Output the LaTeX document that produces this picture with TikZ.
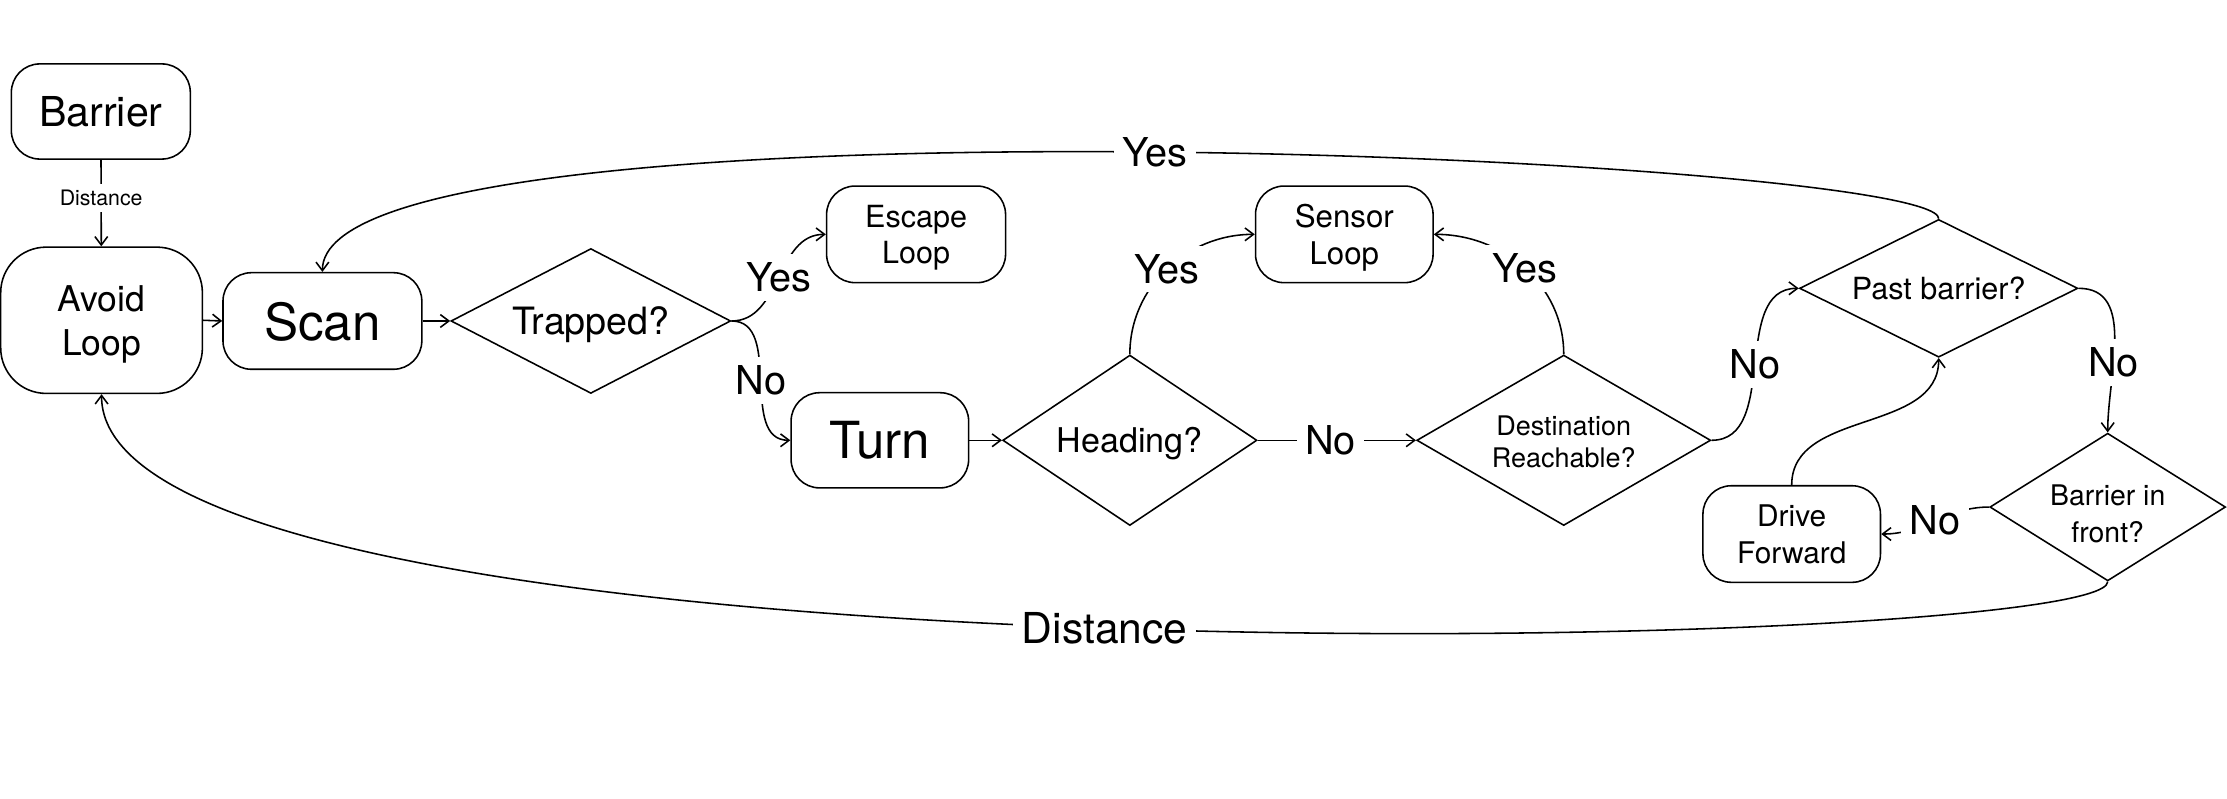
\documentclass[tikz,border=0pt]{standalone}
\usepackage{fontspec}
\setmainfont{TeX Gyre Heros}
\usetikzlibrary{shapes.geometric,arrows.meta}
\begin{document}
\begin{tikzpicture}[x=1pt,y=1pt,
  every path/.style={line width=1.1pt},
  arr/.style={-{Straight Barb[length=6pt,width=9pt]}},
  box/.style={draw,rounded corners=20pt,inner sep=0pt,align=center},
  dia/.style={draw,diamond,inner sep=0pt,align=center},
  lbl/.style={fill=white,inner sep=6pt,font=\fontsize{28}{34}\selectfont},
  slbl/.style={fill=white,inner sep=4pt,font=\fontsize{15}{18}\selectfont}]
\useasboundingbox (0,0) rectangle (1568,-562);

\node[box,minimum width=126pt,minimum height=67pt,font=\fontsize{29}{35}\selectfont,text depth=0pt] (barrier) at (71,-78.5) {Barrier};
\node[box,rounded corners=32pt,minimum width=142pt,minimum height=103pt,font=\fontsize{25}{31}\selectfont] (avoid) at (71.5,-225.5) {Avoid\\\smash{Loop}};
\node[box,minimum width=140pt,minimum height=68pt,font=\fontsize{36}{42}\selectfont,text depth=0pt] (scan) at (227,-226) {Scan};
\node[dia,minimum width=197pt,minimum height=102pt,aspect=1.93,font=\fontsize{26.5}{32}\selectfont,text depth=0pt] (trapped) at (416,-226) {Trapped?};
\node[box,minimum width=126pt,minimum height=68pt,font=\fontsize{21.5}{25}\selectfont] (escape) at (645,-165) {Escape\\\smash{Loop}};
\node[box,minimum width=125pt,minimum height=67pt,font=\fontsize{36}{42}\selectfont,text depth=0pt] (turn) at (619.5,-310) {Turn};
\node[dia,minimum width=179pt,minimum height=120pt,aspect=1.49,font=\fontsize{24}{29}\selectfont,text depth=0pt] (heading) at (795.5,-310) {Heading?};
\node[dia,minimum width=207pt,minimum height=120pt,aspect=1.72] (dest) at (1101,-310) {};
\node[font=\fontsize{19}{22.5}\selectfont,align=center,inner sep=0pt] (desttext) at (1101,-311) {Destination\\Reachable?};
\node[box,minimum width=125pt,minimum height=68pt,font=\fontsize{22}{25.5}\selectfont] (sensor) at (946.5,-165) {Sensor\\\smash{Loop}};
\node[dia,minimum width=196pt,minimum height=97pt,aspect=2.02,font=\fontsize{21.5}{26}\selectfont] (past) at (1365,-203) {Past barrier?};
\node[dia,minimum width=166pt,minimum height=104pt,aspect=1.6] (bif) at (1484,-357) {};
\node[font=\fontsize{20}{26}\selectfont,align=center,inner sep=0pt] (biftext) at (1484,-362) {Barrier in\\front?};
\node[box,minimum width=125pt,minimum height=68pt,font=\fontsize{21}{26}\selectfont] (drive) at (1261.5,-376) {Drive\\Forward};

\draw[arr] (barrier) -- node[slbl,pos=0.44]{Distance} (avoid);
\draw[arr] (avoid.east) -- (scan.west);
\draw[arr] (scan.east) -- (trapped.west);
\draw[arr] (trapped.east) to[out=0,in=180] node[lbl]{Yes} (escape.west);
\draw[arr] (trapped.east) to[out=0,in=180] node[lbl]{No} (turn.west);
\draw[arr] (turn.east) -- (heading.west);
\draw[arr] (heading.north) to[out=90,in=180] node[lbl]{Yes} (sensor.west);
\draw[arr] (heading.east) -- node[lbl,pos=0.46]{No} (dest.west);
\draw[arr] (dest.north) to[out=90,in=0] node[lbl]{Yes} (sensor.east);
\draw[arr] (dest.east) to[out=0,in=180] node[lbl]{No} (past.west);
\draw[arr] (past.east) to[out=0,in=90] node[lbl,pos=0.63]{No} (bif.north);
\draw[arr] (bif.west) to[out=180,in=0] node[lbl]{No} (drive.east);
\draw[arr] (drive.north) to[out=90,in=270] (past.south);
\draw[arr] (past.north) .. controls +(0,43) and +(0,132) .. node[lbl,pos=0.49]{Yes} (scan.north);
\draw[arr] (bif.south) .. controls +(0,-50) and +(0,-213) .. node[lbl,font=\fontsize{30}{36}\selectfont]{Distance} (avoid.south);
\end{tikzpicture}
\end{document}
